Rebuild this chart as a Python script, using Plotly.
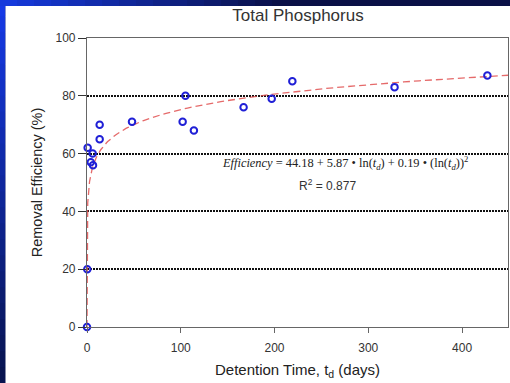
import numpy as np
import plotly.graph_objects as go

# Data
days = [0, 0.3, 0.7, 6, 4, 6.4, 13.5, 13.5, 48, 105, 102, 114, 167, 197, 219, 328, 427]
eff = [0, 20, 62, 60, 57, 56, 65, 70, 71, 80, 71, 68, 76, 79, 85, 83, 87]

# Fit coefficients printed on the chart
a0, a1, a2 = 44.18, 5.87, 0.19
x_ticks = [0, 100, 200, 300, 400]
y_ticks = [0, 20, 40, 60, 80, 100]

# Fit curve evaluated from the printed equation
L0 = (-a1 + np.sqrt(a1**2 - 4 * a2 * a0)) / (2 * a2)
t_fit = np.logspace(L0 / np.log(10), np.log10(450), 400)
lt = np.log(t_fit)
e_fit = a0 + a1 * lt + a2 * lt**2

fig = go.Figure()
fig.add_trace(go.Scatter(x=t_fit, y=e_fit, mode="lines",
                         line=dict(color="rgba(225,80,80,0.85)", width=1.3, dash="7px,4px"),
                         hoverinfo="skip", showlegend=False, cliponaxis=True))
fig.add_trace(go.Scatter(x=days, y=eff, mode="markers",
                         marker=dict(symbol="circle-open", size=6.5, color="#1f1fd6",
                                     line=dict(width=2, color="#1f1fd6")),
                         showlegend=False, cliponaxis=False))

# Page layout constants (pixels)
W, H = 510, 383
ml, mr, mt, mb = 87, 2, 38, 56
pw, ph = W - ml - mr, H - mt - mb

def px(p):
    return (p - ml) / pw

def py(q):
    return (H - mb - q) / ph

shapes = []
# left blue strip gradient
n = 24
for i in range(n):
    f = i / (n - 1)
    r = int(22 + (8 - 22) * f)
    g = int(58 + (20 - 58) * f)
    b = int(230 + (80 - 230) * f)
    shapes.append(dict(type="rect", xref="paper", yref="paper",
                       x0=px(0), x1=px(5.5), y0=py(i * H / n), y1=py((i + 1) * H / n + 1),
                       fillcolor=f"rgb({r},{g},{b})", line=dict(width=0), layer="below"))
# top band gradient
n2 = 30
for i in range(n2):
    f = i / (n2 - 1)
    r = int(22 + (10 - 22) * min(1, f * 1.8))
    g = int(58 + (16 - 58) * min(1, f * 1.8))
    b = int(220 + (70 - 220) * min(1, f * 1.8))
    shapes.append(dict(type="rect", xref="paper", yref="paper",
                       x0=px(i * W / n2), x1=px((i + 1) * W / n2 + 1), y0=py(6), y1=py(0),
                       fillcolor=f"rgb({r},{g},{b})", line=dict(width=0), layer="below"))
# white slide area
shapes.append(dict(type="rect", xref="paper", yref="paper",
                   x0=px(5.5), x1=px(W), y0=py(H), y1=py(6),
                   fillcolor="white", line=dict(width=0), layer="below"))

fig.update_layout(
    width=W, height=H,
    margin=dict(l=ml, r=mr, t=mt, b=mb),
    paper_bgcolor="#0b1450",
    plot_bgcolor="white",
    shapes=shapes,
    font=dict(family="Liberation Sans, Arial", color="#333333"),
    title=dict(text="Total Phosphorus", x=px(298), xanchor="center", xref="paper",
               y=1 - 15 / H, yanchor="middle", font=dict(size=17, color="#333333")),
    xaxis=dict(range=[0, 449], tickvals=x_ticks, showgrid=False, zeroline=False,
               showline=True, linecolor="#666666", linewidth=1.2, mirror=True,
               ticks="outside", ticklen=5, tickcolor="#666666", ticklabelstandoff=4,
               tickfont=dict(size=12, color="#333333"),
               title=dict(text="Detention Time, t<sub>d</sub> (days)", font=dict(size=15, color="#222222"),
                          standoff=10)),
    yaxis=dict(range=[0, 100], tickvals=y_ticks, showgrid=True, gridcolor="#111111",
               gridwidth=2, griddash="2px,1px", zeroline=False,
               showline=True, linecolor="#666666", linewidth=1.2, mirror=True,
               ticks="outside", ticklen=8, tickcolor="#333333",
               tickfont=dict(size=12, color="#333333"),
               title=dict(text="Removal Efficiency (%)", font=dict(size=14.5, color="#222222"),
                          standoff=9)),
    annotations=[
        dict(text="<i>Efficiency</i> = 44.18 + 5.87 \u2022 ln(<i>t<sub>d</sub></i>) + 0.19 \u2022 (ln(<i>t<sub>d</sub></i>))<sup>2</sup>",
             x=275.5, y=56.8, xref="x", yref="y", showarrow=False,
             font=dict(family="Liberation Serif, Times New Roman", size=12.4, color="#222222")),
        dict(text="R<sup>2</sup> = 0.877", x=257, y=49, xref="x", yref="y", showarrow=False,
             font=dict(size=12, color="#333333")),
        dict(text="<b>Residence Time</b>", x=px(252), y=py(4.5), xref="paper", yref="paper",
             xanchor="center", yanchor="bottom", showarrow=False,
             font=dict(size=30, color="#f5a000")),
    ],
)

fig.write_html("out.html")
